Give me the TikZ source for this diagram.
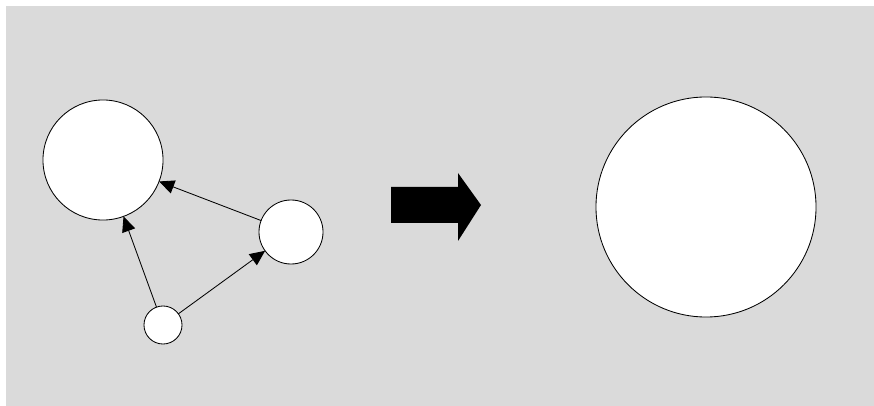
\documentclass[tikz,border=0pt]{standalone}
\usetikzlibrary{arrows.meta}
\definecolor{bggray}{RGB}{218,218,218}
\tikzset{
  ball/.style={circle, draw=black, fill=white, line width=0.6pt, inner sep=0pt, outer sep=0pt},
  link/.style={draw=black, line width=0.6pt, -{Triangle[length=0.38cm, width=0.34cm]}}
}
\begin{document}
\begin{tikzpicture}[x=0.025cm, y=-0.025cm]
  % ---------- 背景 ----------
  \fill[white] (0,0) rectangle (874,406);
  \fill[bggray] (6,6) rectangle (874,406);
  \useasboundingbox (0,0) rectangle (874,406);

  % ---------- 左图: 三个圆 ----------
  \node[ball, minimum size=3cm] (big) at (103,160) {};
  \node[ball, minimum size=1.6cm] (mid) at (291,232) {};
  \node[ball, minimum size=0.95cm] (small) at (163,325) {};

  % 连线
  \draw[link] (small) -- (big);
  \draw[link] (small) -- (mid);
  \draw[link] (mid) -- (big);

  % ---------- 中间的粗箭头 ----------
  \fill[black] (391,187) -- (458,187) -- (458,173) -- (481,205)
    -- (458,241) -- (458,223) -- (391,223) -- cycle;

  % ---------- 右图: 合并后的圆 ----------
  \node[ball, minimum size=5.5cm] (merged) at (706,207) {};
\end{tikzpicture}
\end{document}
